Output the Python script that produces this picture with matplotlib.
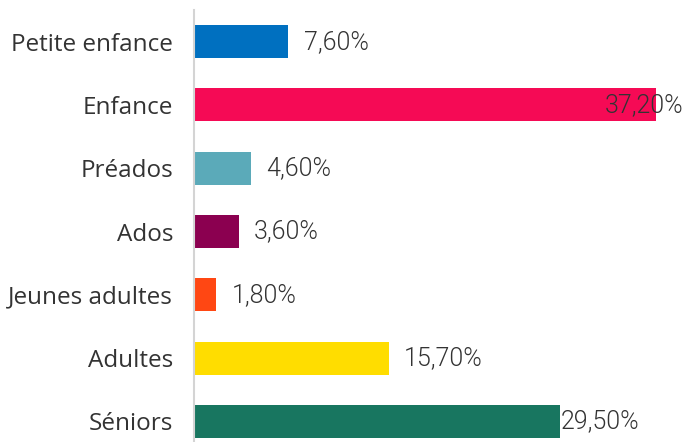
import matplotlib
matplotlib.use("Agg")
import matplotlib.pyplot as plt

categories = ["Petite enfance", "Enfance", "Préados", "Ados", "Jeunes adultes", "Adultes", "Séniors"]
values = [7.6, 37.2, 4.6, 3.6, 1.8, 15.7, 29.5]
labels = ["7,60%", "37,20%", "4,60%", "3,60%", "1,80%", "15,70%", "29,50%"]
colors = ["#0070C0", "#F50A55", "#5BAAB9", "#8B0050", "#FF4713", "#FFDD00", "#187660"]

W, H = 683, 442
fig = plt.figure(figsize=(W / 100, H / 100), dpi=100)
px_per_unit = 12.42
left_px, top_px, bottom_px = 194, 10, 453
ax = fig.add_axes([left_px / W, (H - bottom_px) / H, (W - left_px) / W, (bottom_px - top_px) / H])
ax.set_xlim(0, (W - left_px) / px_per_unit)
ax.set_ylim(len(categories) - 0.5, -0.5)

ypos = list(range(len(categories)))
ax.barh(ypos, values, height=0.52, color=colors, edgecolor="none")

for spine in ["top", "right", "bottom"]:
    ax.spines[spine].set_visible(False)
ax.spines["left"].set_color("#d4d4d4")
ax.spines["left"].set_linewidth(1.5)
ax.set_xticks([])
ax.set_yticks(ypos)
ax.set_yticklabels(categories, fontsize=17.5, color="#333333", family=["Open Sans", "DejaVu Sans"])
ax.tick_params(axis="y", length=0, pad=15)

vfont = dict(fontsize=18, color="#333333", family=["Roboto", "DejaVu Sans"], fontweight=300)
for i, (v, lab) in enumerate(zip(values, labels)):
    if i == 1:
        ax.annotate(lab, xy=(1.0, i), xycoords=("figure fraction", "data"), ha="right", va="center", **vfont)
    elif i == 6:
        ax.annotate(lab, xy=(v, i), xytext=(0, 0), textcoords="offset points", ha="left", va="center", **vfont)
    else:
        ax.annotate(lab, xy=(v, i), xytext=(11, 0), textcoords="offset points", ha="left", va="center", **vfont)

fig.savefig("out.png", dpi=100)
